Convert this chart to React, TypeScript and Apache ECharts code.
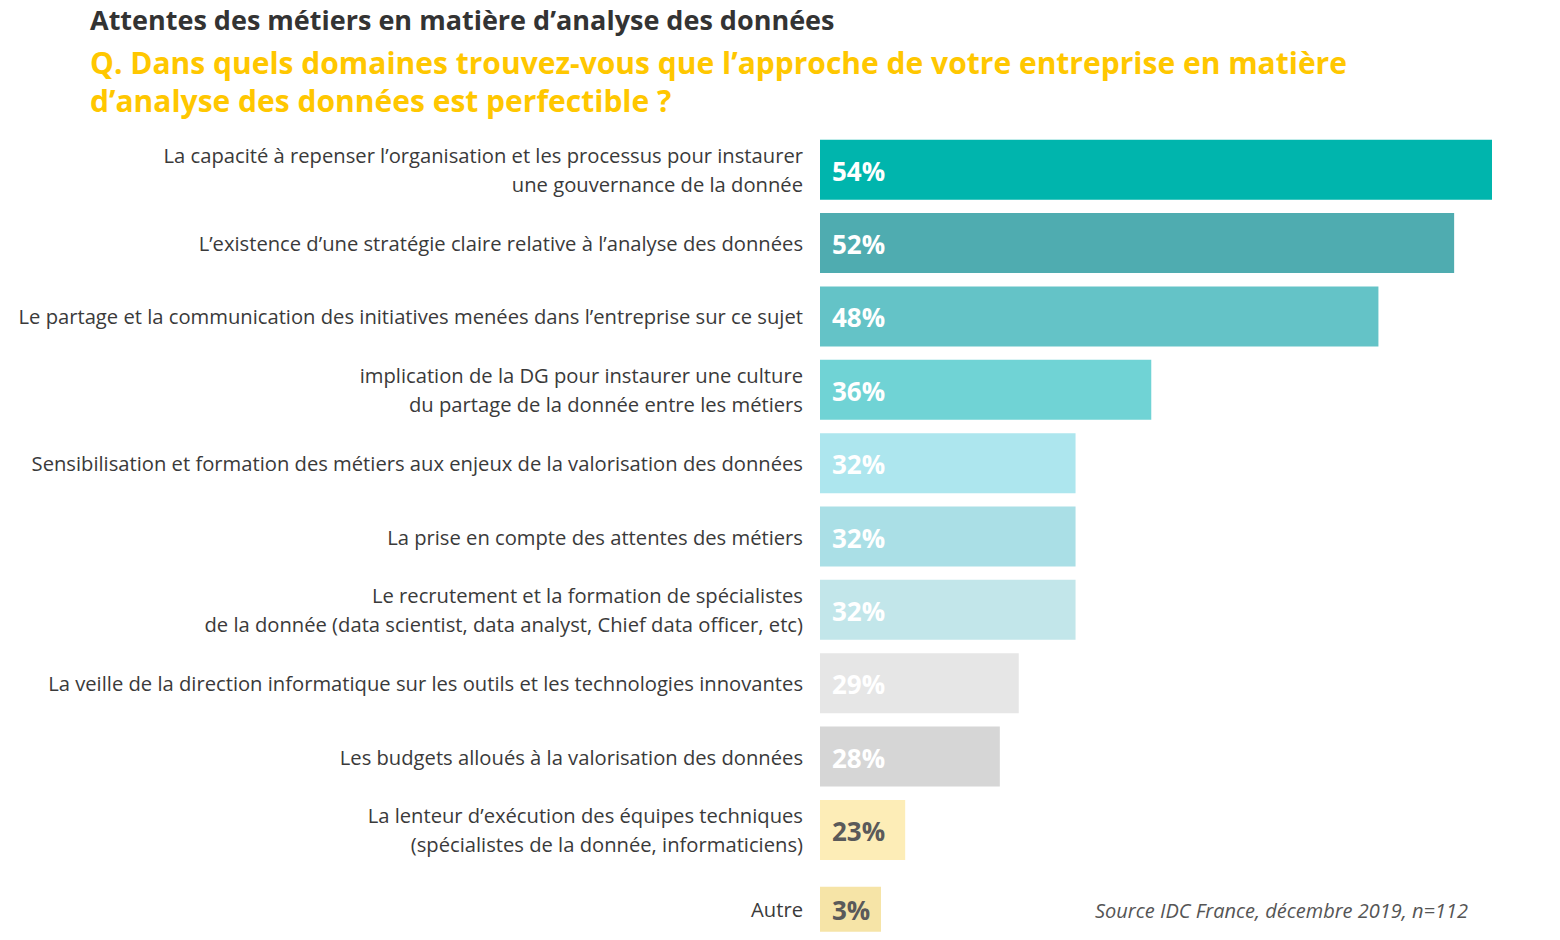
import React, { useEffect, useRef } from "react";
import * as echarts from "echarts";

const TITLE = "Attentes des métiers en matière d’analyse des données";
const SUBTITLE_LINES = [
  "Q. Dans quels domaines trouvez-vous que l’approche de votre entreprise en matière",
  "d’analyse des données est perfectible ?",
];
const SOURCE = "Source IDC France, décembre 2019, n=112";

const CATEGORIES = [
  "La capacité à repenser l’organisation et les processus pour instaurer\nune gouvernance de la donnée",
  "L’existence d’une stratégie claire relative à l’analyse des données",
  "Le partage et la communication des initiatives menées dans l’entreprise sur ce sujet",
  "implication de la DG pour instaurer une culture\ndu partage de la donnée entre les métiers",
  "Sensibilisation et formation des métiers aux enjeux de la valorisation des données",
  "La prise en compte des attentes des métiers",
  "Le recrutement et la formation de spécialistes\nde la donnée (data scientist, data analyst, Chief data officer, etc)",
  "La veille de la direction informatique sur les outils et les technologies innovantes",
  "Les budgets alloués à la valorisation des données",
  "La lenteur d’exécution des équipes techniques\n(spécialistes de la donnée, informaticiens)",
  "Autre",
];
const VALUES = [54, 52, 48, 36, 32, 32, 32, 29, 28, 23, 3];

const BAR_COLORS = [
  "#00B5AD", "#4FACB0", "#64C3C7", "#70D3D5", "#ADE6EE", "#AADFE6",
  "#C2E6EA", "#E6E6E6", "#D6D6D6", "#FDEDB7", "#F6E4A7",
];
const LABEL_COLORS = [
  "#FFFFFF", "#FFFFFF", "#FFFFFF", "#FFFFFF", "#FFFFFF", "#FFFFFF",
  "#FFFFFF", "#FFFFFF", "#FFFFFF", "#5A5A5A", "#5A5A5A",
];

const AXIS_MIN = 18.5;
const AXIS_MAX = 54;
const LAST_SHIFT = 6;

export default function App() {
  const ref = useRef<HTMLDivElement>(null);

  useEffect(() => {
    if (!ref.current) return;
    const chart = echarts.init(ref.current, null, { renderer: "svg" });
    const data = VALUES.map((v, i) => [v, i]);
    const last = CATEGORIES.length - 1;
    chart.setOption({
      animation: false,
      backgroundColor: "#FFFFFF",
      grid: { left: 820, right: 68, top: 133, height: 808 },
      xAxis: { type: "value", min: AXIS_MIN, max: AXIS_MAX, show: false },
      yAxis: {
        type: "category",
        data: CATEGORIES,
        inverse: true,
        axisLine: { show: false },
        axisTick: { show: false },
        splitLine: { show: false },
        axisLabel: {
          margin: 17,
          fontFamily: "Open Sans",
          fontSize: 20.2,
          lineHeight: 29,
          color: "#3A3A3A",
          align: "right",
          formatter: (v: string, i: number) => (i === last ? `{last|${v}}` : v),
          rich: {
            last: {
              fontFamily: "Open Sans",
              fontSize: 20.2,
              lineHeight: 29,
              color: "#3A3A3A",
              padding: [LAST_SHIFT * 2, 0, 0, 0],
            },
          },
        },
      },
      series: [
        {
          type: "custom",
          encode: { x: 0, y: 1 },
          data,
          renderItem: (params: any, api: any) => {
            const val = api.value(0);
            const cat = api.value(1);
            const start = api.coord([AXIS_MIN, cat]);
            const end = api.coord([val, cat]);
            const isLast = cat === last;
            const h = isLast ? 45 : 60;
            const cy = end[1] + (isLast ? LAST_SHIFT : 0);
            const w = Math.max(end[0] - start[0], 61);
            return {
              type: "group",
              children: [
                {
                  type: "rect",
                  shape: { x: start[0], y: cy - h / 2, width: w, height: h },
                  style: { fill: BAR_COLORS[params.dataIndex] },
                },
                {
                  type: "text",
                  style: {
                    text: val + "%",
                    x: start[0] + 12,
                    y: cy + 1,
                    fill: LABEL_COLORS[params.dataIndex],
                    font: 'bold 26px "Open Sans"',
                    align: "left",
                    verticalAlign: "middle",
                  },
                },
              ],
            };
          },
        },
      ],
      graphic: [
        {
          type: "text",
          left: 90,
          top: 6,
          style: {
            text: TITLE,
            font: 'bold 27px "Open Sans"',
            fill: "#333333",
          },
        },
        {
          type: "text",
          left: 90,
          top: 43,
          style: {
            text: SUBTITLE_LINES.join("\n"),
            font: 'bold 30px "Open Sans"',
            lineHeight: 38,
            fill: "#FFC700",
          },
        },
        {
          type: "text",
          right: 92,
          top: 900,
          style: {
            text: SOURCE,
            font: 'italic 20px "Open Sans"',
            fill: "#555555",
          },
        },
      ],
    });
    return () => chart.dispose();
  }, []);

  return <div ref={ref} style={{ width: 1560, height: 940, position: "absolute", left: 0, top: 0 }} />;
}
